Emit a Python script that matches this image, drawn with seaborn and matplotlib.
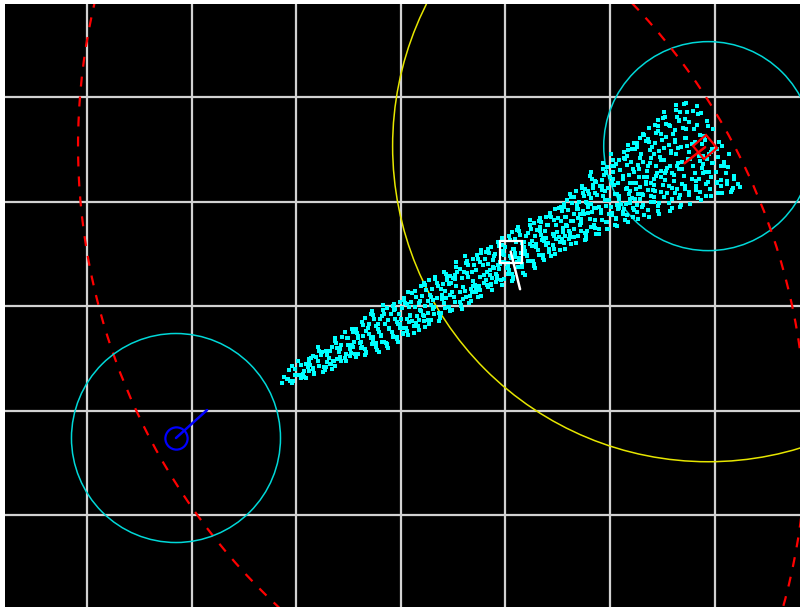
import numpy as np
import seaborn as sns
import matplotlib.pyplot as plt
from matplotlib.patches import Circle
from matplotlib.markers import MarkerStyle
from matplotlib.transforms import Affine2D

# landmarks (m)
landmark_x = [2.94, -2.153]
landmark_y = [1.53, -1.263]
near_radius = 1.0      # cyan circles
range_radius = [3.02, 6.03]   # yellow (first landmark), red dashed (both)

# poses: x, y, heading (deg), heading line length
white_pose = (1.05, 0.52, -76, 0.37)
red_pose = (2.91, 1.52, 218, 0.25)
blue_pose = (-2.153, -1.263, 42, 0.40)

particle_x = [
    -1.14, -1.09, -1.12, -1.06,
    -1.03, -0.98, -1.01, -0.96, -1.04,
    -0.93, -0.88, -0.91, -0.86, -0.94, -0.89,
    -0.83, -0.78, -0.81, -0.76, -0.84, -0.79,
    -0.73, -0.68, -0.71, -0.66, -0.74, -0.69, -0.72,
    -0.63, -0.58, -0.61, -0.56, -0.64, -0.59, -0.62,
    -0.53, -0.48, -0.51, -0.46, -0.54, -0.49, -0.52, -0.47,
    -0.43, -0.38, -0.41, -0.36, -0.44, -0.39, -0.42, -0.37,
    -0.33, -0.28, -0.31, -0.26, -0.34, -0.29, -0.32, -0.27,
    -0.23, -0.18, -0.21, -0.16, -0.24, -0.19, -0.22, -0.17, -0.20,
    -0.13, -0.08, -0.11, -0.06, -0.14, -0.09, -0.12, -0.07, -0.10,
    -0.03, 0.02, -0.01, 0.04, -0.04, 0.01, -0.02, 0.03, 0.00,
    0.07, 0.12, 0.09, 0.14, 0.06, 0.11, 0.08, 0.13, 0.10,
    0.17, 0.22, 0.19, 0.24, 0.16, 0.21, 0.18, 0.23, 0.20,
    0.27, 0.32, 0.29, 0.34, 0.26, 0.31, 0.28, 0.33, 0.30,
    0.37, 0.42, 0.39, 0.44, 0.36, 0.41, 0.38, 0.43, 0.40,
    0.47, 0.52, 0.49, 0.54, 0.46, 0.51, 0.48, 0.53, 0.50,
    0.57, 0.62, 0.59, 0.64, 0.56, 0.61, 0.58, 0.63, 0.60,
    0.67, 0.72, 0.69, 0.74, 0.66, 0.71, 0.68, 0.73, 0.70,
    0.77, 0.82, 0.79, 0.84, 0.76, 0.81, 0.78, 0.83, 0.80, 0.85,
    0.87, 0.92, 0.89, 0.94, 0.86, 0.91, 0.88, 0.93, 0.90, 0.95,
    0.97, 1.02, 0.99, 1.04, 0.96, 1.01, 0.98, 1.03, 1.00, 1.05,
    1.07, 1.12, 1.09, 1.14, 1.06, 1.11, 1.08, 1.13, 1.10, 1.15,
    1.17, 1.22, 1.19, 1.24, 1.16, 1.21, 1.18, 1.23, 1.20, 1.25,
    1.27, 1.32, 1.29, 1.34, 1.26, 1.31, 1.28, 1.33, 1.30, 1.35,
    1.37, 1.42, 1.39, 1.44, 1.36, 1.41, 1.38, 1.43, 1.40, 1.45,
    1.47, 1.52, 1.49, 1.54, 1.46, 1.51, 1.48, 1.53, 1.50, 1.55,
    1.57, 1.62, 1.59, 1.64, 1.56, 1.61, 1.58, 1.63, 1.60, 1.65, 1.56,
    1.67, 1.72, 1.69, 1.74, 1.66, 1.71, 1.68, 1.73, 1.70, 1.75, 1.66,
    1.77, 1.82, 1.79, 1.84, 1.76, 1.81, 1.78, 1.83, 1.80, 1.85, 1.76, 1.82,
    1.87, 1.92, 1.89, 1.94, 1.86, 1.91, 1.88, 1.93, 1.90, 1.95, 1.86, 1.92,
    1.97, 2.02, 1.99, 2.04, 1.96, 2.01, 1.98, 2.03, 2.00, 2.05, 1.96, 2.02,
    2.07, 2.12, 2.09, 2.14, 2.06, 2.11, 2.08, 2.13, 2.10, 2.15, 2.06, 2.12, 2.09,
    2.17, 2.22, 2.19, 2.24, 2.16, 2.21, 2.18, 2.23, 2.20, 2.25, 2.16, 2.22, 2.19,
    2.27, 2.32, 2.29, 2.34, 2.26, 2.31, 2.28, 2.33, 2.30, 2.35, 2.26, 2.32, 2.29, 2.34,
    2.37, 2.42, 2.39, 2.44, 2.36, 2.41, 2.38, 2.43, 2.40, 2.45, 2.36, 2.42, 2.39, 2.44,
    2.47, 2.52, 2.49, 2.54, 2.46, 2.51, 2.48, 2.53, 2.50, 2.55, 2.46, 2.52, 2.49, 2.54,
    2.57, 2.62, 2.59, 2.64, 2.56, 2.61, 2.58, 2.63, 2.60, 2.65, 2.56, 2.62, 2.59, 2.64,
    2.67, 2.72, 2.69, 2.74, 2.66, 2.71, 2.68, 2.73, 2.70, 2.75, 2.66, 2.72, 2.69,
    2.77, 2.82, 2.79, 2.84, 2.76, 2.81, 2.78, 2.83, 2.80, 2.85, 2.76, 2.82,
    2.87, 2.92, 2.89, 2.94, 2.86, 2.91, 2.88, 2.93, 2.90, 2.95,
    2.97, 3.02, 2.99, 3.04, 2.96, 3.01, 2.98, 3.03,
    3.07, 3.12, 3.09, 3.14, 3.06, 3.11,
    3.17, 3.22, 3.19, 3.24,
    # second pass
    -1.04, -1.08, -1.01, -1.07,
    -0.99, -0.95, -0.93, -0.96, -0.91,
    -0.88, -0.83, -0.87, -0.84, -0.84, -0.88,
    -0.78, -0.71, -0.77, -0.72, -0.79, -0.75,
    -0.65, -0.63, -0.66, -0.61, -0.68, -0.63, -0.67,
    -0.53, -0.57, -0.54, -0.54, -0.58, -0.51, -0.57,
    -0.41, -0.47, -0.42, -0.49, -0.45, -0.43, -0.46, -0.41,
    -0.33, -0.36, -0.31, -0.38, -0.33, -0.37, -0.34, -0.34,
    -0.27, -0.24, -0.24, -0.28, -0.21, -0.27, -0.22, -0.29,
    -0.17, -0.12, -0.19, -0.15, -0.13, -0.16, -0.11, -0.18, -0.13,
    -0.06, -0.01, -0.08, -0.03, -0.07, -0.04, -0.04, -0.08, -0.01,
    0.06, 0.06, 0.02, 0.09, 0.03, 0.08, 0.01, 0.05, 0.07,
    0.18, 0.11, 0.15, 0.17, 0.14, 0.19, 0.12, 0.17, 0.13,
    0.29, 0.22, 0.27, 0.23, 0.26, 0.26, 0.22, 0.29, 0.23,
    0.36, 0.32, 0.39, 0.33, 0.38, 0.31, 0.35, 0.37, 0.34,
    0.41, 0.45, 0.47, 0.44, 0.49, 0.42, 0.47, 0.43, 0.46,
    0.52, 0.57, 0.53, 0.56, 0.56, 0.52, 0.59, 0.53, 0.58,
    0.62, 0.69, 0.63, 0.68, 0.61, 0.65, 0.67, 0.64, 0.69,
    0.75, 0.77, 0.74, 0.79, 0.72, 0.77, 0.73, 0.76, 0.76, 0.72,
    0.87, 0.83, 0.86, 0.86, 0.82, 0.89, 0.83, 0.88, 0.81, 0.85,
    0.99, 0.93, 0.98, 0.91, 0.95, 0.97, 0.94, 0.99, 0.92, 0.97,
    1.07, 1.04, 1.09, 1.02, 1.07, 1.03, 1.06, 1.06, 1.02, 1.09,
    1.13, 1.16, 1.16, 1.12, 1.19, 1.13, 1.18, 1.11, 1.15, 1.17,
    1.23, 1.28, 1.21, 1.25, 1.27, 1.24, 1.29, 1.22, 1.27, 1.23,
    1.34, 1.39, 1.32, 1.37, 1.33, 1.36, 1.36, 1.32, 1.39, 1.33,
    1.46, 1.46, 1.42, 1.49, 1.43, 1.48, 1.41, 1.45, 1.47, 1.44,
    1.58, 1.51, 1.55, 1.57, 1.54, 1.59, 1.52, 1.57, 1.53, 1.56, 1.56,
    1.69, 1.62, 1.67, 1.63, 1.66, 1.66, 1.62, 1.69, 1.63, 1.68, 1.61,
    1.76, 1.72, 1.79, 1.73, 1.78, 1.71, 1.75, 1.77, 1.74, 1.79, 1.72, 1.77,
    1.81, 1.85, 1.87, 1.84, 1.89, 1.82, 1.87, 1.83, 1.86, 1.86, 1.82, 1.89,
    1.92, 1.97, 1.93, 1.96, 1.96, 1.92, 1.99, 1.93, 1.98, 1.91, 1.95, 1.97,
    2.02, 2.09, 2.03, 2.08, 2.01, 2.05, 2.07, 2.04, 2.09, 2.02, 2.07, 2.03, 2.06,
    2.15, 2.17, 2.14, 2.19, 2.12, 2.17, 2.13, 2.16, 2.16, 2.12, 2.19, 2.13, 2.18,
    2.27, 2.23, 2.26, 2.26, 2.22, 2.29, 2.23, 2.28, 2.21, 2.25, 2.27, 2.24, 2.29, 2.22,
    2.39, 2.33, 2.38, 2.31, 2.35, 2.37, 2.34, 2.39, 2.32, 2.37, 2.33, 2.36, 2.36, 2.32,
    2.47, 2.44, 2.49, 2.42, 2.47, 2.43, 2.46, 2.46, 2.42, 2.49, 2.46, 2.42, 2.49, 2.43,
    2.53, 2.56, 2.56, 2.52, 2.59, 2.53, 2.58, 2.51, 2.55, 2.57, 2.54, 2.59, 2.52, 2.57,
    2.63, 2.68, 2.61, 2.65, 2.67, 2.64, 2.69, 2.62, 2.67, 2.63, 2.66, 2.66, 2.62,
    2.74, 2.79, 2.72, 2.77, 2.73, 2.76, 2.76, 2.72, 2.79, 2.73, 2.78, 2.71,
    2.86, 2.86, 2.82, 2.89, 2.83, 2.88, 2.81, 2.85, 2.87, 2.84, 2.89,
    2.98, 2.91, 2.95, 2.97, 2.94, 2.99, 2.92, 2.97, 2.93,
    3.09, 3.02, 3.07, 3.03, 3.06, 3.06, 3.02,
    3.16, 3.12, 3.19, 3.13, 3.18,
]
particle_y = [
    -0.74, -0.70, -0.68, -0.72,
    -0.72, -0.66, -0.60, -0.69, -0.57,
    -0.68, -0.62, -0.55, -0.50, -0.65, -0.58,
    -0.64, -0.57, -0.49, -0.44, -0.60, -0.53,
    -0.61, -0.55, -0.47, -0.39, -0.58, -0.50, -0.43,
    -0.57, -0.49, -0.40, -0.30, -0.53, -0.44, -0.35,
    -0.53, -0.45, -0.37, -0.25, -0.50, -0.41, -0.31, -0.22,
    -0.49, -0.40, -0.31, -0.18, -0.46, -0.35, -0.26, -0.15,
    -0.45, -0.36, -0.27, -0.12, -0.41, -0.31, -0.21, -0.09,
    -0.42, -0.34, -0.25, -0.08, -0.39, -0.29, -0.17, -0.04, -0.12,
    -0.38, -0.30, -0.21, -0.03, -0.35, -0.25, -0.13, 0.02, -0.08,
    -0.34, -0.26, -0.17, 0.03, -0.30, -0.21, -0.08, 0.08, -0.12,
    -0.28, -0.19, -0.10, 0.09, -0.24, -0.14, -0.01, 0.14, 0.04,
    -0.23, -0.14, -0.05, 0.15, -0.19, -0.09, 0.05, 0.20, 0.10,
    -0.17, -0.08, 0.01, 0.22, -0.13, -0.03, 0.11, 0.26, 0.16,
    -0.11, -0.02, 0.07, 0.27, -0.07, 0.03, 0.16, 0.31, 0.21,
    -0.05, 0.04, 0.13, 0.33, -0.01, 0.09, 0.22, 0.37, 0.27,
    0.00, 0.09, 0.18, 0.39, 0.04, 0.14, 0.27, 0.43, 0.33,
    0.05, 0.15, 0.24, 0.45, 0.10, 0.20, 0.33, 0.49, 0.39,
    0.10, 0.20, 0.30, 0.51, 0.15, 0.25, 0.39, 0.55, 0.45, 0.34,
    0.15, 0.26, 0.36, 0.57, 0.20, 0.31, 0.44, 0.61, 0.50, 0.40,
    0.20, 0.31, 0.42, 0.63, 0.25, 0.36, 0.50, 0.67, 0.56, 0.46,
    0.26, 0.37, 0.47, 0.68, 0.31, 0.42, 0.55, 0.72, 0.61, 0.51,
    0.32, 0.43, 0.53, 0.74, 0.37, 0.48, 0.61, 0.78, 0.67, 0.57,
    0.38, 0.49, 0.59, 0.80, 0.43, 0.54, 0.67, 0.84, 0.73, 0.63,
    0.44, 0.55, 0.65, 0.85, 0.49, 0.60, 0.72, 0.89, 0.78, 0.69,
    0.50, 0.61, 0.71, 0.91, 0.55, 0.66, 0.78, 0.95, 0.84, 0.75,
    0.55, 0.66, 0.77, 0.99, 0.60, 0.72, 0.85, 1.04, 0.92, 0.81, 0.95,
    0.60, 0.72, 0.84, 1.08, 0.66, 0.78, 0.93, 1.13, 1.00, 0.88, 1.04,
    0.64, 0.76, 0.89, 1.16, 0.70, 0.83, 0.99, 1.22, 1.07, 0.94, 1.12, 1.03,
    0.69, 0.82, 0.95, 1.25, 0.75, 0.89, 1.06, 1.31, 1.15, 1.01, 1.20, 1.11,
    0.74, 0.87, 1.01, 1.34, 0.80, 0.95, 1.13, 1.40, 1.23, 1.07, 1.28, 1.18,
    0.77, 0.90, 1.05, 1.41, 0.83, 0.98, 1.18, 1.47, 1.30, 1.12, 1.36, 1.24, 0.94,
    0.80, 0.94, 1.10, 1.50, 0.87, 1.03, 1.25, 1.56, 1.38, 1.18, 1.44, 1.31, 0.99,
    0.83, 0.97, 1.14, 1.58, 0.90, 1.07, 1.31, 1.64, 1.45, 1.23, 1.52, 1.38, 1.02, 1.19,
    0.85, 1.00, 1.18, 1.66, 0.92, 1.11, 1.37, 1.73, 1.52, 1.27, 1.60, 1.45, 1.05, 1.24,
    0.88, 1.04, 1.23, 1.74, 0.96, 1.16, 1.43, 1.81, 1.59, 1.32, 1.67, 1.51, 1.09, 1.29,
    0.91, 1.08, 1.27, 1.81, 0.99, 1.20, 1.48, 1.88, 1.65, 1.37, 1.73, 1.57, 1.13, 1.34,
    0.95, 1.12, 1.31, 1.86, 1.03, 1.24, 1.52, 1.94, 1.70, 1.41, 1.78, 1.61, 1.17,
    0.98, 1.15, 1.34, 1.84, 1.06, 1.27, 1.55, 1.91, 1.69, 1.44, 1.76, 1.20,
    1.01, 1.17, 1.36, 1.72, 1.09, 1.28, 1.55, 1.77, 1.63, 1.45,
    1.05, 1.19, 1.37, 1.57, 1.12, 1.28, 1.50, 1.43,
    1.08, 1.20, 1.34, 1.45, 1.15, 1.27,
    1.11, 1.17, 1.22, 1.14,
    # second pass
    -0.74, -0.70, -0.66, -0.61,
    -0.53, -0.68, -0.62, -0.56, -0.69,
    -0.51, -0.65, -0.56, -0.48, -0.59, -0.53,
    -0.43, -0.54, -0.47, -0.58, -0.39, -0.63,
    -0.53, -0.31, -0.60, -0.51, -0.43, -0.33, -0.55,
    -0.46, -0.37, -0.25, -0.50, -0.41, -0.31, -0.53,
    -0.46, -0.37, -0.26, -0.48, -0.34, -0.22, -0.39, -0.29,
    -0.44, -0.29, -0.17, -0.34, -0.24, -0.39, -0.11, -0.47,
    -0.30, -0.19, -0.35, -0.05, -0.44, -0.33, -0.22, -0.08,
    0.01, -0.40, -0.28, -0.17, -0.02, -0.34, -0.22, -0.10, -0.36,
    -0.12, 0.04, -0.29, -0.17, -0.04, -0.32, -0.15, 0.00, -0.21,
    -0.12, 0.02, -0.27, -0.09, 0.06, -0.15, -0.02, -0.21, 0.13,
    -0.04, 0.12, -0.10, 0.03, -0.16, 0.19, -0.26, -0.13, -0.01,
    0.09, -0.10, 0.25, -0.20, -0.07, 0.05, 0.22, -0.13, 0.00,
    -0.14, -0.01, 0.11, 0.28, -0.07, 0.06, 0.19, -0.10, 0.08,
    0.33, -0.01, 0.11, 0.25, -0.04, 0.14, 0.29, 0.08, 0.21,
    0.30, 0.01, 0.19, 0.35, 0.13, 0.26, 0.07, 0.42, -0.03,
    0.41, 0.19, 0.32, 0.13, 0.48, 0.03, 0.16, 0.28, 0.45,
    0.19, 0.54, 0.09, 0.22, 0.34, 0.51, 0.16, 0.28, 0.42, 0.13,
    0.27, 0.40, 0.56, 0.21, 0.33, 0.48, 0.18, 0.37, 0.52, 0.30,
    0.26, 0.39, 0.53, 0.23, 0.42, 0.58, 0.35, 0.49, 0.29, 0.65,
    0.28, 0.48, 0.64, 0.41, 0.55, 0.34, 0.71, 0.24, 0.37, 0.51,
    0.46, 0.60, 0.40, 0.76, 0.30, 0.43, 0.56, 0.73, 0.37, 0.50,
    0.82, 0.36, 0.49, 0.62, 0.79, 0.43, 0.56, 0.70, 0.40, 0.59,
    0.68, 0.85, 0.49, 0.62, 0.76, 0.46, 0.65, 0.81, 0.58, 0.72,
    0.67, 0.82, 0.52, 0.71, 0.86, 0.64, 0.78, 0.58, 0.93, 0.48,
    0.78, 0.94, 0.71, 0.85, 0.64, 1.01, 0.54, 0.67, 0.81, 0.98, 0.61,
    0.93, 0.70, 1.10, 0.59, 0.74, 0.88, 1.07, 0.67, 0.81, 0.97, 0.64,
    0.63, 0.79, 0.95, 1.15, 0.72, 0.88, 1.05, 0.68, 0.91, 1.10, 0.83, 1.00,
    1.24, 0.78, 0.94, 1.13, 0.74, 0.98, 1.19, 0.90, 1.08, 0.82, 1.28, 0.69,
    1.21, 0.80, 1.05, 1.27, 0.96, 1.15, 0.88, 1.37, 0.74, 0.92, 1.10, 1.33,
    1.34, 1.02, 1.22, 0.93, 1.45, 0.78, 0.97, 1.16, 1.40, 0.89, 1.07, 1.28, 0.84,
    0.98, 1.54, 0.82, 1.02, 1.22, 1.49, 0.93, 1.13, 1.35, 0.88, 1.18, 1.42, 1.07,
    1.07, 1.28, 1.56, 0.97, 1.18, 1.42, 0.92, 1.23, 1.50, 1.12, 1.35, 1.02, 1.61, 0.85,
    1.00, 1.23, 1.49, 0.95, 1.29, 1.57, 1.17, 1.42, 1.06, 1.70, 0.87, 1.11, 1.34, 1.65,
    0.99, 1.34, 1.65, 1.22, 1.48, 1.10, 1.78, 0.91, 1.16, 1.40, 1.72, 1.04, 1.29, 1.56,
    1.27, 1.54, 1.15, 1.86, 0.94, 1.21, 1.46, 1.80, 1.08, 1.34, 1.62, 1.02, 1.40, 1.72,
    1.92, 0.97, 1.25, 1.51, 1.86, 1.12, 1.38, 1.68, 1.06, 1.45, 1.77, 1.31, 1.59,
    1.53, 1.87, 1.15, 1.41, 1.69, 1.09, 1.47, 1.79, 1.34, 1.61, 1.22, 1.93,
    1.39, 1.64, 1.11, 1.44, 1.73, 1.32, 1.57, 1.22, 1.85, 1.03, 1.27,
    1.37, 1.59, 1.28, 1.47, 1.19, 1.69, 1.05, 1.23, 1.41,
    1.38, 1.18, 1.53, 1.08, 1.21, 1.34, 1.50,
    1.09, 1.17, 1.24, 1.33, 1.13,
]

grid_x = [-3, -2, -1, 0, 1, 2, 3]
grid_y = [-2, -1, 0, 1, 2]

sns.set_theme(style="dark", rc={"axes.facecolor": "black", "figure.facecolor": "white"})

fig = plt.figure(figsize=(8, 6.07), dpi=100)
ax = fig.add_axes([5 / 800, 0, 795 / 800, 603 / 607])
ax.set_xlim(-3.789, 3.818)
ax.set_ylim(-2.880, 2.890)

ax.set_xticks(grid_x)
ax.set_yticks(grid_y)
ax.tick_params(length=0, labelbottom=False, labelleft=False)
ax.grid(True, color="#d2d2d2", linewidth=1.6)
ax.set_axisbelow(True)
for s in ax.spines.values():
    s.set_visible(False)

# range circles
for lx, ly in zip(landmark_x, landmark_y):
    ax.add_patch(Circle((lx, ly), near_radius, fill=False, ec="#00d8d8", lw=1.1))
    ax.add_patch(Circle((lx, ly), range_radius[1], fill=False, ec="#ff0000",
                        lw=1.6, linestyle=(0, (4.5, 4.5))))
ax.add_patch(Circle((landmark_x[0], landmark_y[0]), range_radius[0], fill=False,
                    ec="#e6e600", lw=1.1))

# particles
sns.scatterplot(x=particle_x, y=particle_y, marker="s", s=6, color="#00ffff",
                linewidth=0, ax=ax, zorder=3)


def draw_pose(pose, color, marker, size):
    x, y, th, ln = pose
    t = np.deg2rad(th)
    ax.plot([x, x + ln * np.cos(t)], [y, y + ln * np.sin(t)], color=color, lw=1.8, zorder=5)
    ax.plot([x], [y], marker=marker, markersize=size, mfc="none", mec=color, mew=1.6, zorder=5)


draw_pose(white_pose, "white", "s", 16)
draw_pose(red_pose, "#ff0000", MarkerStyle("s", transform=Affine2D().rotate_deg(red_pose[2] - 180)), 12)
draw_pose(blue_pose, "#0000ff", "o", 16)

fig.savefig("out.png", dpi=100, facecolor="white")
